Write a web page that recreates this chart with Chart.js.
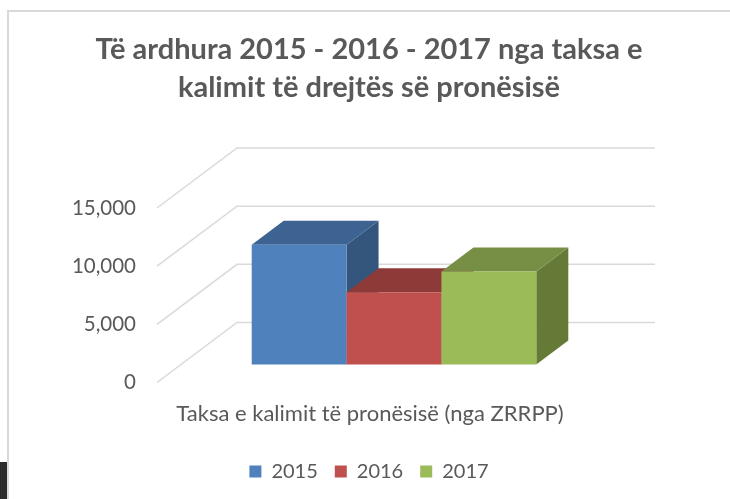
<!DOCTYPE html>
<html>
<head>
<meta charset="utf-8">
<script src="https://cdn.jsdelivr.net/npm/chart.js@4"></script>
<style>
  html, body { margin: 0; padding: 0; background: #fff; }
</style>
</head>
<body>
<canvas id="chart" width="730" height="499"></canvas>
<script>
"use strict";

// ── data ────────────────────────────────────────────────
const categories  = ["Taksa e kalimit të pronësisë (nga ZRRPP)"];
const seriesNames = ["2015", "2016", "2017"];
const values2015  = [10300];
const values2016  = [6200];
const values2017  = [8000];
const yTicks      = [0, 5000, 10000, 15000];

const TITLE = ["Të ardhura 2015 - 2016 - 2017 nga taksa e", "kalimit të drejtës së pronësisë"];

// ── style ───────────────────────────────────────────────
const FRONT = ["#4f81bd", "#c0504d", "#9bbb59"];
const TOP   = ["#3d6392", "#8e3a39", "#778f44"];
const SIDE  = ["#34567d", "#7a3130", "#667a37"];
const TEXT  = "#595959";
const GRID  = "#d9d9d9";

// 3D depth of the floor (front -> back) and where the bars sit inside it
const DEPTH_X = 80, DEPTH_Y = -60;
const BAR_FROM = 0.3, BAR_TO = 0.7;

function poly(ctx, pts) {
  ctx.beginPath();
  ctx.moveTo(pts[0][0], pts[0][1]);
  for (let i = 1; i < pts.length; i++) ctx.lineTo(pts[i][0], pts[i][1]);
  ctx.closePath();
  ctx.fill();
}

const box3d = {
  id: "box3d",
  beforeDraw(chart) {
    // frame of the sheet
    const ctx = chart.ctx;
    ctx.save();
    ctx.strokeStyle = "#d9d9d9";
    ctx.lineWidth = 2;
    ctx.beginPath();
    ctx.moveTo(8, 499);
    ctx.lineTo(8, 11);
    ctx.lineTo(730, 11);
    ctx.stroke();
    ctx.fillStyle = "#2b2b2b";
    ctx.fillRect(0, 462, 7, 37);
    ctx.restore();
  },
  beforeDatasetsDraw(chart) {
    // side wall + back wall grid lines
    const { ctx, chartArea: a, scales: { y } } = chart;
    ctx.save();
    ctx.strokeStyle = GRID;
    ctx.lineWidth = 1.5;
    y.ticks.forEach(t => {
      const py = y.getPixelForValue(t.value);
      ctx.beginPath();
      ctx.moveTo(a.left, py);
      ctx.lineTo(a.left + DEPTH_X, py + DEPTH_Y);
      ctx.lineTo(a.right + DEPTH_X - 8, py + DEPTH_Y);
      ctx.stroke();
    });
    ctx.restore();
  },
  beforeDatasetDraw() {
    return false; // drawn below, left to right, with their 3D faces
  },
  afterDatasetsDraw(chart) {
    const ctx = chart.ctx;
    const dx = DEPTH_X * (BAR_TO - BAR_FROM);
    const dy = DEPTH_Y * (BAR_TO - BAR_FROM);
    ctx.save();
    ctx.translate(DEPTH_X * BAR_FROM, DEPTH_Y * BAR_FROM);
    chart.data.datasets.forEach((ds, i) => {
      chart.getDatasetMeta(i).data.forEach(el => {
        const { x, y, base, width } = el.getProps(["x", "y", "base", "width"], true);
        const l = x - width / 2, r = x + width / 2;
        ctx.fillStyle = SIDE[i];
        poly(ctx, [[r, y], [r + dx, y + dy], [r + dx, base + dy], [r, base]]);
        ctx.fillStyle = TOP[i];
        poly(ctx, [[l, y], [r, y], [r + dx, y + dy], [l + dx, y + dy]]);
        el.draw(ctx);
      });
    });
    ctx.restore();
  },
};

new Chart(document.getElementById("chart"), {
  type: "bar",
  data: {
    labels: categories,
    datasets: [
      { label: seriesNames[0], data: values2015, backgroundColor: FRONT[0] },
      { label: seriesNames[1], data: values2016, backgroundColor: FRONT[1] },
      { label: seriesNames[2], data: values2017, backgroundColor: FRONT[2] },
    ],
  },
  options: {
    responsive: false,
    animation: false,
    layout: { padding: { left: 8, right: 0, top: 0, bottom: 7.5 } },
    datasets: {
      bar: { categoryPercentage: 0.668, barPercentage: 1, borderWidth: 0 },
    },
    plugins: {
      title: {
        display: true,
        text: TITLE,
        color: TEXT,
        font: { family: "Lato", size: 29, weight: "bold", lineHeight: 1.31 },
        padding: { top: 31, bottom: 101 },
      },
      legend: {
        position: "bottom",
        labels: {
          color: TEXT,
          font: { family: "Lato", size: 20 },
          boxWidth: 12,
          boxHeight: 12,
          padding: 17,
        },
      },
      tooltip: { enabled: false },
    },
    scales: {
      x: {
        grid: { display: false, drawTicks: false },
        border: { display: false },
        ticks: { color: TEXT, font: { family: "Lato", size: 22 }, padding: 18 },
        afterFit(s) { s.height = 62; },
      },
      y: {
        min: 0,
        max: 15000,
        grid: { display: false, drawTicks: false },
        border: { display: false },
        afterBuildTicks(s) { s.ticks = yTicks.map(v => ({ value: v })); },
        ticks: {
          color: TEXT,
          font: { family: "Lato", size: 20.5 },
          padding: 21,
          callback: v => v.toLocaleString("en-US"),
        },
        afterFit(s) { s.width = 149; },
      },
      y2: {
        type: "linear",
        position: "right",
        grid: { display: false },
        border: { display: false },
        ticks: { display: false },
        afterFit(s) { s.width = 147; },
      },
    },
  },
  plugins: [box3d],
});
</script>
</body>
</html>
